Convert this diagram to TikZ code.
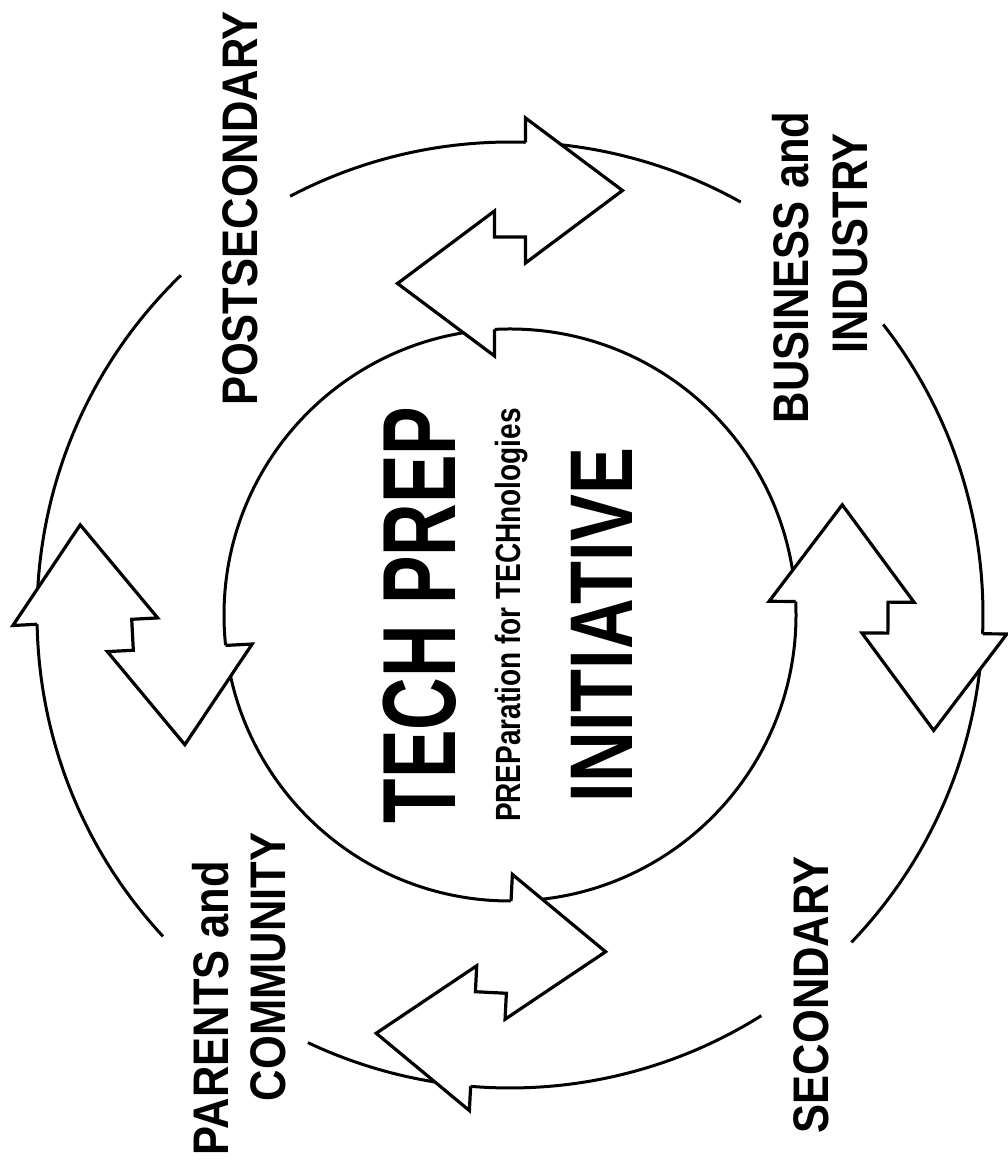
\documentclass[tikz,border=0pt]{standalone}
\usepackage{fontspec}
\usepackage{tikz}
\newfontfamily\partnerfont[FakeStretch=0.87]{Liberation Sans Bold}
\newfontfamily\techfont[FakeStretch=0.70]{Liberation Sans Bold}
\newfontfamily\prepfont[FakeStretch=0.80]{Liberation Sans Bold}
\newfontfamily\initfont[FakeStretch=0.79]{Liberation Sans Bold}
\tikzstyle{ring} = [line width=3pt]
\tikzstyle{blockarrow} = [line width=3.2pt, line join=miter]
\tikzstyle{partner} = [rotate=90, anchor=base, inner sep=0pt, font=\partnerfont\fontsize{50}{50}\selectfont]
\tikzstyle{bigtitle} = [rotate=90, anchor=base, inner sep=0pt, font=\techfont\fontsize{104}{104}\selectfont]
\tikzstyle{subtitle} = [rotate=90, anchor=base, inner sep=0pt, font=\prepfont\fontsize{35}{35}\selectfont]
\tikzstyle{inittitle} = [rotate=90, anchor=base, inner sep=0pt, font=\initfont\fontsize{89}{89}\selectfont]
\newcommand{\twoway}[1]{%
\begin{scope}[shift={(ctr)}, rotate={#1-90}]
\fill[white] (15.5,352) -- (112.5,424.5) -- (15.5,497) -- cycle;
\fill[white] (-15.5,259) -- (-112.5,331.5) -- (-15.5,404) -- cycle;
\draw[blockarrow] (15.5,472.7) -- (15.5,497) -- (112.5,424.5) -- (15.5,352) -- (15.5,378) -- (-15.5,378) -- (-15.5,404) -- (-112.5,331.5) -- (-15.5,259) -- (-15.5,285.6);
\end{scope}}

\begin{document}
\begin{tikzpicture}[x=1pt, y=1pt]
\useasboundingbox (0,0) rectangle (1007,1169);
\coordinate (ctr) at (510,554);
\draw[ring] (ctr) circle[radius=286];
\draw[ring] (ctr) ++(60.8:473) arc[start angle=60.8, end angle=117.7, radius=473];
\draw[ring] (ctr) ++(134.1:473) arc[start angle=134.1, end angle=222.8, radius=473];
\draw[ring] (ctr) ++(244.7:473) arc[start angle=244.7, end angle=302.1, radius=473];
\draw[ring] (ctr) ++(-43.8:473) arc[start angle=-43.8, end angle=37.9, radius=473];
\twoway{90}
\twoway{-0.4}
\twoway{-92.9}
\twoway{183}
\node (post) [partner] at (257,960.5) {POSTSECONDARY};
\node (business) [partner] at (808,901.5) {BUSINESS and};
\node (industry) [partner] at (867,925.5) {INDUSTRY};
\node (secondary) [partner] at (828,174) {SECONDARY};
\node (parents) [partner] at (228,161) {PARENTS and};
\node (community) [partner] at (285,202) {COMMUNITY};
\node (tech) [bigtitle] at (455,554) {TECH PREP};
\node (prep) [subtitle] at (520,554) {PREParation for TECHnologies};
\node (initiative) [inittitle] at (632,544) {INITIATIVE};
\end{tikzpicture}
\end{document}
